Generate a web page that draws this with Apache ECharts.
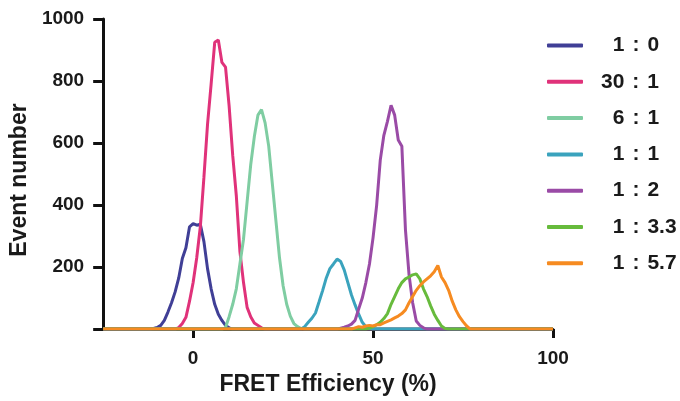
<!DOCTYPE html>
<html>
<head>
<meta charset="utf-8">
<script src="https://cdn.jsdelivr.net/npm/echarts@6/dist/echarts.min.js"></script>
<style>
  html, body { margin: 0; padding: 0; background: #fff; }
  #chart { width: 680px; height: 401px; }
</style>
</head>
<body>
<div id="chart"></div>
<script>
// FRET efficiency histograms (1 % bins) for each donor : acceptor ratio
const ratioLabels = ['1 : 0', '30 : 1', '6 : 1', '1 : 1', '1 : 2', '1 : 3.3', '1 : 5.7'];
const ratioColors = ['#403f96', '#e0327a', '#7fcda2', '#3aa3bd', '#9a4ba6', '#67bb3c', '#f68b21'];

// first bin (% efficiency) of each count list below
const firstBin = [-12, -5, 8, 30, 40, 48, 44];

const counts_1_0   = [0, 2, 5, 12, 28, 55, 85, 120, 165, 228, 262, 330, 340, 335, 338, 282, 195, 130, 80, 48, 28, 12, 4, 0];
const counts_30_1  = [0, 5, 18, 38, 90, 150, 230, 330, 490, 660, 790, 925, 932, 860, 845, 720, 560, 430, 250, 150, 70, 40, 20, 12, 4, 0];
const counts_6_1   = [0, 5, 40, 80, 130, 210, 290, 410, 530, 620, 690, 708, 665, 590, 470, 350, 230, 140, 80, 42, 18, 8, 2, 0];
const counts_1_1   = [0, 8, 22, 35, 52, 88, 125, 165, 195, 210, 226, 218, 190, 150, 110, 78, 48, 22, 8, 2, 0];
const counts_1_2   = [0, 3, 6, 10, 16, 28, 65, 100, 150, 210, 295, 400, 545, 625, 670, 722, 690, 610, 590, 320, 175, 85, 26, 12, 4, 0];
const counts_1_3_3 = [0, 3, 8, 14, 22, 34, 50, 80, 105, 130, 150, 162, 168, 175, 178, 162, 130, 105, 75, 48, 28, 10, 2, 0];
const counts_1_5_7 = [0, 4, 8, 6, 10, 12, 10, 14, 14, 20, 25, 30, 36, 42, 50, 62, 85, 105, 125, 140, 152, 162, 172, 185, 205, 168, 150, 125, 90, 62, 40, 24, 10, 0];

const allCounts = [counts_1_0, counts_30_1, counts_6_1, counts_1_1, counts_1_2, counts_1_3_3, counts_1_5_7];

const xMin = -25, xMax = 100;
const xTicks = [0, 50, 100];
const yMin = 0, yMax = 1000, yStep = 200;

// every histogram spans the whole efficiency range (empty bins are zero)
function histogram(counts, start) {
  const pts = [];
  for (let v = xMin; v <= xMax; v++) {
    const i = v - start;
    pts.push([v, i >= 0 && i < counts.length ? counts[i] : 0]);
  }
  return pts;
}

const font = 'Liberation Sans, Arial, sans-serif';
const ink = '#1a1a1a';
const legendFont = { fontFamily: font, fontWeight: 'bold', fontSize: 21, color: ink };

const chart = echarts.init(document.getElementById('chart'), null, { renderer: 'canvas' });

chart.setOption({
  animation: false,
  backgroundColor: '#ffffff',
  grid: { left: 103, right: 127, top: 19, bottom: 70.5, containLabel: false },
  legend: {
    orient: 'vertical',
    left: 542,
    top: 30,
    itemWidth: 36,
    itemHeight: 4,
    itemGap: 15.3,
    icon: 'roundRect',
    selectedMode: false,
    data: ratioLabels,
    // the two halves of each ratio line up on the colon
    formatter: name => {
      const [a, b] = name.split(' : ');
      const lead = a.length === 1 ? '{g2|}' : '{g1|}';
      return lead + '{l|' + a + '}{c|:}{r|' + b + '}';
    },
    textStyle: {
      ...legendFont,
      lineHeight: 20,
      rich: {
        g1: { width: 13 },
        g2: { width: 24.7 },
        l: { ...legendFont },
        c: { ...legendFont, width: 23, align: 'center' },
        r: { ...legendFont }
      }
    }
  },
  xAxis: {
    type: 'value',
    min: xMin,
    max: xMax,
    name: 'FRET Efficiency (%)',
    nameLocation: 'middle',
    nameGap: 40,
    nameTextStyle: { fontFamily: font, fontWeight: 'bold', fontSize: 23, color: ink },
    splitLine: { show: false },
    axisLine: { show: true, onZero: false, lineStyle: { color: '#111', width: 3 } },
    axisTick: { show: true, length: 9, customValues: xTicks, lineStyle: { color: '#111', width: 3 } },
    axisLabel: { customValues: xTicks, margin: 20, fontFamily: font, fontWeight: 'bold', fontSize: 19, color: ink }
  },
  yAxis: {
    type: 'value',
    min: yMin,
    max: yMax,
    interval: yStep,
    name: 'Event number',
    nameLocation: 'middle',
    nameGap: 69,
    nameTextStyle: { fontFamily: font, fontWeight: 'bold', fontSize: 23, color: ink, padding: [0, 12, 0, 0] },
    splitLine: { show: false },
    axisLine: { show: true, onZero: false, lineStyle: { color: '#111', width: 3 } },
    axisTick: { show: true, length: 10, lineStyle: { color: '#111', width: 3 } },
    axisLabel: {
      margin: 19,
      fontFamily: font, fontWeight: 'bold', fontSize: 19, color: ink,
      formatter: v => (v === 0 ? '' : String(v))
    }
  },
  series: ratioLabels.map((name, k) => ({
    name,
    type: 'line',
    data: histogram(allCounts[k], firstBin[k]),
    symbol: 'none',
    color: ratioColors[k],
    lineStyle: { width: 3, color: ratioColors[k] },
    z: 2 + k
  }))
});
</script>
</body>
</html>
